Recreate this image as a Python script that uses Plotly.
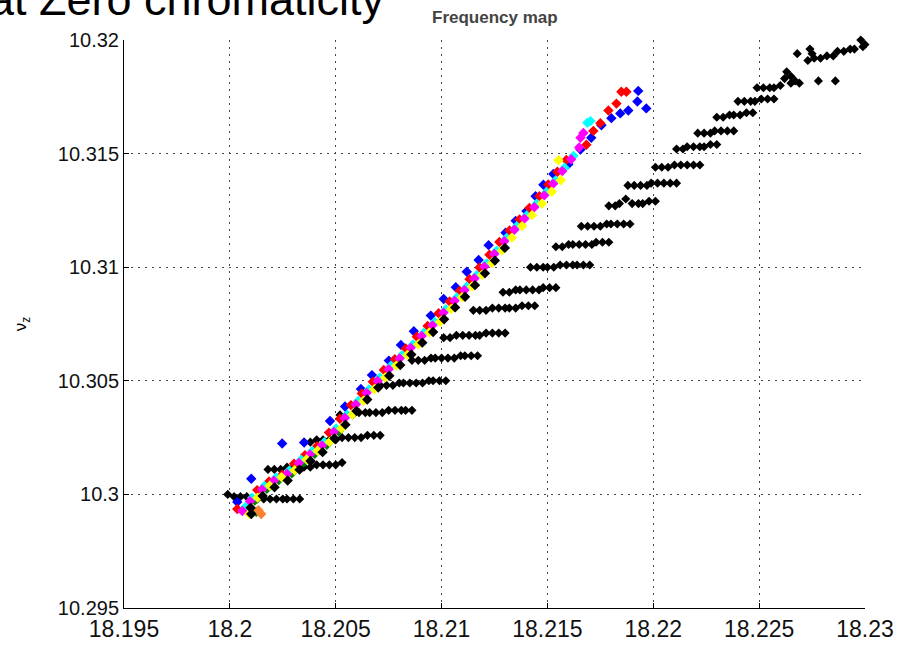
import plotly.graph_objects as go

# ---------------- data ----------------
x_ticks = [18.195, 18.2, 18.205, 18.21, 18.215, 18.22, 18.225, 18.23]
x_tick_labels = ["18.195", "18.2", "18.205", "18.21", "18.215", "18.22", "18.225", "18.23"]
y_ticks = [10.295, 10.3, 10.305, 10.31, 10.315, 10.32]
y_tick_labels = ["10.295", "10.3", "10.305", "10.31", "10.315", "10.32"]

# black staircase (one list per row)
black_rows_x = [
    [18.1999, 18.2002, 18.2005, 18.2008, 18.2010, 18.2013, 18.2016, 18.2019, 18.2022, 18.2025, 18.2027, 18.2030, 18.2033],
    [18.2018, 18.2021, 18.2024, 18.2027, 18.2030, 18.2032, 18.2035, 18.2038, 18.2041, 18.2044, 18.2047, 18.2050, 18.2053],
    [18.2035, 18.2038, 18.2041, 18.2044, 18.2047, 18.2050, 18.2053, 18.2056, 18.2059, 18.2062, 18.2065, 18.2068, 18.2071],
    [18.2052, 18.2055, 18.2058, 18.2061, 18.2064, 18.2066, 18.2069, 18.2072, 18.2075, 18.2078, 18.2081, 18.2083, 18.2086],
    [18.2071, 18.2074, 18.2077, 18.2080, 18.2082, 18.2085, 18.2088, 18.2091, 18.2094, 18.2096, 18.2099, 18.2102],
    [18.2086, 18.2089, 18.2092, 18.2095, 18.2097, 18.2100, 18.2103, 18.2106, 18.2109, 18.2111, 18.2114, 18.2117],
    [18.2101, 18.2104, 18.2107, 18.2110, 18.2113, 18.2116, 18.2118, 18.2121, 18.2124, 18.2127, 18.2130],
    [18.2115, 18.2118, 18.2121, 18.2124, 18.2127, 18.2130, 18.2132, 18.2135, 18.2138, 18.2141, 18.2144],
    [18.2129, 18.2132, 18.2135, 18.2137, 18.2140, 18.2143, 18.2146, 18.2148, 18.2151, 18.2154],
    [18.2142, 18.2145, 18.2148, 18.2150, 18.2153, 18.2156, 18.2159, 18.2162, 18.2164, 18.2167, 18.2170],
    [18.2154, 18.2157, 18.2160, 18.2162, 18.2165, 18.2168, 18.2171, 18.2173, 18.2176, 18.2179],
    [18.2166, 18.2169, 18.2172, 18.2175, 18.2178, 18.2180, 18.2183, 18.2186, 18.2189],
    [18.2179, 18.2182, 18.2184, 18.2187, 18.2190, 18.2193, 18.2195, 18.2198, 18.2201],
    [18.2188, 18.2191, 18.2194, 18.2197, 18.2199, 18.2202, 18.2205, 18.2208, 18.2211],
    [18.2201, 18.2204, 18.2207, 18.2210, 18.2213, 18.2216, 18.2219, 18.2222],
    [18.2211, 18.2214, 18.2216, 18.2219, 18.2222, 18.2224, 18.2227, 18.2230],
    [18.2221, 18.2224, 18.2227, 18.2229, 18.2232, 18.2235, 18.2238],
    [18.2230, 18.2233, 18.2236, 18.2238, 18.2241, 18.2244, 18.2247],
    [18.2240, 18.2243, 18.2246, 18.2248, 18.2251, 18.2254, 18.2257],
    [18.2249, 18.2252, 18.2255, 18.2257, 18.2260],
    [18.2273, 18.2276, 18.2279, 18.2282, 18.2285],
    [18.2287, 18.2290, 18.2293, 18.2295],
]
black_rows_y = [
    [10.3000, 10.2999, 10.2999, 10.2999, 10.2998, 10.2998, 10.2998, 10.2998, 10.2998, 10.2998, 10.2998, 10.2998, 10.2998],
    [10.3011, 10.3011, 10.3011, 10.3012, 10.3012, 10.3012, 10.3012, 10.3012, 10.3013, 10.3013, 10.3013, 10.3013, 10.3014],
    [10.3023, 10.3023, 10.3024, 10.3024, 10.3024, 10.3024, 10.3025, 10.3025, 10.3025, 10.3025, 10.3026, 10.3026, 10.3026],
    [10.3035, 10.3035, 10.3035, 10.3036, 10.3036, 10.3036, 10.3036, 10.3036, 10.3037, 10.3037, 10.3037, 10.3037, 10.3037],
    [10.3048, 10.3048, 10.3048, 10.3049, 10.3049, 10.3049, 10.3049, 10.3049, 10.3050, 10.3050, 10.3050, 10.3050],
    [10.3059, 10.3059, 10.3059, 10.3060, 10.3060, 10.3060, 10.3060, 10.3060, 10.3061, 10.3061, 10.3061, 10.3061],
    [10.3069, 10.3069, 10.3070, 10.3070, 10.3070, 10.3070, 10.3070, 10.3071, 10.3071, 10.3071, 10.3071],
    [10.3081, 10.3081, 10.3081, 10.3082, 10.3082, 10.3082, 10.3082, 10.3082, 10.3083, 10.3083, 10.3083],
    [10.3089, 10.3089, 10.3090, 10.3090, 10.3090, 10.3090, 10.3090, 10.3091, 10.3091, 10.3091],
    [10.3100, 10.3100, 10.3100, 10.3100, 10.3100, 10.3101, 10.3101, 10.3101, 10.3101, 10.3101, 10.3101],
    [10.3109, 10.3109, 10.3110, 10.3110, 10.3110, 10.3110, 10.3110, 10.3111, 10.3111, 10.3111],
    [10.3118, 10.3118, 10.3118, 10.3118, 10.3119, 10.3119, 10.3119, 10.3119, 10.3119],
    [10.3127, 10.3127, 10.3128, 10.3130, 10.3128, 10.3128, 10.3128, 10.3129, 10.3129],
    [10.3136, 10.3136, 10.3136, 10.3136, 10.3137, 10.3137, 10.3137, 10.3137, 10.3137],
    [10.3144, 10.3144, 10.3144, 10.3145, 10.3145, 10.3145, 10.3145, 10.3145],
    [10.3152, 10.3152, 10.3153, 10.3153, 10.3153, 10.3153, 10.3154, 10.3154],
    [10.3159, 10.3159, 10.3159, 10.3160, 10.3160, 10.3160, 10.3160],
    [10.3166, 10.3166, 10.3167, 10.3167, 10.3167, 10.3168, 10.3168],
    [10.3173, 10.3173, 10.3173, 10.3173, 10.3174, 10.3174, 10.3174],
    [10.3179, 10.3179, 10.3179, 10.3179, 10.3180],
    [10.3191, 10.3192, 10.3192, 10.3193, 10.3193],
    [10.3195, 10.3195, 10.3196, 10.3196],
]
black_extra_x = [18.2263, 18.2265, 18.2267, 18.2269, 18.2265, 18.2262, 18.2274, 18.2275, 18.2268,
                 18.2278, 18.2286, 18.2297, 18.2298, 18.2300, 18.2299]
black_extra_y = [10.3186, 10.3184, 10.3182, 10.3181, 10.3181, 10.3183, 10.3196, 10.3194, 10.3194,
                 10.3182, 10.3182, 10.3201, 10.3200, 10.3198, 10.3197]

blue_x = [18.20035, 18.20101, 18.20247, 18.20351, 18.20473, 18.20544, 18.20619, 18.20671, 18.20751,
          18.20808, 18.20869, 18.20949, 18.21010, 18.21067, 18.21119, 18.21175, 18.21222, 18.21302,
          18.21350, 18.21401, 18.21444, 18.21481, 18.21528, 18.21599, 18.21656, 18.21707, 18.21755,
          18.21802, 18.21844, 18.21882, 18.21925, 18.21967, 18.21929]
blue_y = [10.29966, 10.30069, 10.30224, 10.30228, 10.30323, 10.30387, 10.30464, 10.30525, 10.30589,
          10.30658, 10.30718, 10.30787, 10.30860, 10.30912, 10.30980, 10.31032, 10.31097, 10.31152,
          10.31204, 10.31247, 10.31312, 10.31363, 10.31410, 10.31453, 10.31518, 10.31570, 10.31625,
          10.31656, 10.31677, 10.31690, 10.31729, 10.31699, 10.31776]

red_x = [18.20035, 18.20129, 18.20185, 18.20247, 18.20303, 18.20355, 18.20412, 18.20468, 18.20520,
         18.20572, 18.20623, 18.20675, 18.20727, 18.20779, 18.20831, 18.20883, 18.20934, 18.20986,
         18.21038, 18.21085, 18.21132, 18.21179, 18.21226, 18.21273, 18.21321, 18.21368, 18.21415,
         18.21462, 18.21504, 18.21547, 18.21589, 18.21684, 18.21717, 18.21750, 18.21788, 18.21826,
         18.21849, 18.21873]
red_y = [10.29936, 10.30019, 10.30057, 10.30087, 10.30135, 10.30173, 10.30212, 10.30272, 10.30333,
         10.30393, 10.30444, 10.30496, 10.30548, 10.30595, 10.30642, 10.30694, 10.30741, 10.30797,
         10.30849, 10.30896, 10.30947, 10.30999, 10.31055, 10.31111, 10.31162, 10.31210, 10.31261,
         10.31313, 10.31364, 10.31420, 10.31472, 10.31539, 10.31600, 10.31634, 10.31690, 10.31720,
         10.31772, 10.31772]

green_x = [18.20125, 18.20118, 18.20175, 18.20231, 18.20293, 18.20349, 18.20401, 18.20458, 18.20514]
green_y = [10.29923, 10.29973, 10.30025, 10.30063, 10.30093, 10.30141, 10.30179, 10.30218, 10.30278]

orange_x = [18.20148, 18.20135]
orange_y = [10.29914, 10.29930]

cyan_x = [18.20073, 18.20106, 18.20163, 18.20219, 18.20281, 18.20337, 18.20389, 18.20446, 18.20502,
          18.20554, 18.20606, 18.20657, 18.20709, 18.20761, 18.20813, 18.20865, 18.20917, 18.20968,
          18.21020, 18.21072, 18.21119, 18.21166, 18.21213, 18.21260, 18.21307, 18.21355, 18.21402,
          18.21449, 18.21496, 18.21538, 18.21581, 18.21623, 18.21689, 18.21703]
cyan_y = [10.29944, 10.29985, 10.30037, 10.30075, 10.30105, 10.30153, 10.30191, 10.30230, 10.30290,
          10.30351, 10.30411, 10.30462, 10.30514, 10.30566, 10.30613, 10.30660, 10.30712, 10.30759,
          10.30815, 10.30867, 10.30914, 10.30965, 10.31017, 10.31073, 10.31129, 10.31180, 10.31228,
          10.31279, 10.31331, 10.31382, 10.31438, 10.31490, 10.31636, 10.31643]

magenta_x = [18.20059, 18.20095, 18.20152, 18.20208, 18.20270, 18.20326, 18.20378, 18.20435, 18.20491,
             18.20543, 18.20595, 18.20646, 18.20698, 18.20750, 18.20802, 18.20854, 18.20906, 18.20957,
             18.21009, 18.21061, 18.21108, 18.21155, 18.21202, 18.21249, 18.21296, 18.21344, 18.21391,
             18.21438, 18.21485, 18.21527, 18.21570, 18.21612, 18.21650, 18.21656, 18.21670]
magenta_y = [10.29927, 10.29970, 10.30022, 10.30060, 10.30090, 10.30138, 10.30176, 10.30215, 10.30275,
             10.30336, 10.30396, 10.30447, 10.30499, 10.30551, 10.30598, 10.30645, 10.30697, 10.30744,
             10.30800, 10.30852, 10.30899, 10.30950, 10.31002, 10.31058, 10.31114, 10.31165, 10.31213,
             10.31264, 10.31316, 10.31367, 10.31423, 10.31475, 10.31527, 10.31570, 10.31591]

yellow_x = [18.20092, 18.20131, 18.20188, 18.20244, 18.20306, 18.20362, 18.20414, 18.20471, 18.20527,
            18.20579, 18.20631, 18.20682, 18.20734, 18.20786, 18.20838, 18.20890, 18.20942, 18.20993,
            18.21045, 18.21097, 18.21144, 18.21191, 18.21238, 18.21285, 18.21332, 18.21380, 18.21427,
            18.21474, 18.21521, 18.21563, 18.21552]
yellow_y = [10.29914, 10.29986, 10.30038, 10.30076, 10.30106, 10.30154, 10.30192, 10.30231, 10.30291,
            10.30352, 10.30412, 10.30463, 10.30515, 10.30567, 10.30614, 10.30661, 10.30713, 10.30760,
            10.30816, 10.30868, 10.30915, 10.30966, 10.31018, 10.31074, 10.31130, 10.31181, 10.31229,
            10.31280, 10.31332, 10.31383, 10.31471]

kdiag_x = [18.20101, 18.20098, 18.20155, 18.20211, 18.20273, 18.20329, 18.20381, 18.20438, 18.20494,
           18.20546, 18.20598, 18.20649, 18.20701, 18.20753, 18.20805, 18.20857, 18.20909, 18.20960,
           18.21012, 18.21064, 18.21111, 18.21158, 18.21205, 18.21252, 18.21299]
kdiag_y = [10.29914, 10.29941, 10.29993, 10.30031, 10.30061, 10.30109, 10.30147, 10.30186, 10.30246,
           10.30307, 10.30367, 10.30418, 10.30470, 10.30522, 10.30569, 10.30616, 10.30668, 10.30715,
           10.30771, 10.30823, 10.30870, 10.30921, 10.30973, 10.31029, 10.31085]

# ---------------- figure ----------------
fig = go.Figure()

bx = [v for row in black_rows_x for v in row] + black_extra_x
by = [v for row in black_rows_y for v in row] + black_extra_y
fig.add_trace(go.Scatter(x=bx, y=by, mode="markers",
                         marker=dict(symbol="diamond", size=7, color="black", line=dict(width=0)),
                         cliponaxis=False))

series = [
    (blue_x, blue_y, "#0000ff"),
    (red_x, red_y, "#ff0000"),
    (green_x, green_y, "#008000"),
    (orange_x, orange_y, "#ff8030"),
    (cyan_x, cyan_y, "#00ffff"),
    (magenta_x, magenta_y, "#ff00ff"),
    (yellow_x, yellow_y, "#ffff00"),
    (kdiag_x, kdiag_y, "#000000"),
]
for sx, sy, col in series:
    fig.add_trace(go.Scatter(x=sx, y=sy, mode="markers",
                             marker=dict(symbol="diamond", size=8, color=col, line=dict(width=0)),
                             cliponaxis=False))

axis_common = dict(
    showgrid=True, gridcolor="#444444", griddash="2px,5px", gridwidth=1,
    zeroline=False, showline=True, linecolor="black", linewidth=1,
    ticks="inside", ticklen=5, tickcolor="black", mirror=False,
)

fig.update_layout(
    width=906, height=654,
    margin=dict(l=124, r=39, t=40, b=33),
    paper_bgcolor="white", plot_bgcolor="white",
    showlegend=False,
    font=dict(family="Liberation Sans, Arial, sans-serif", color="black"),
    xaxis=dict(range=[18.195, 18.23], tickvals=x_ticks, ticktext=x_tick_labels,
               tickfont=dict(family="Liberation Sans Narrow, Liberation Sans, sans-serif", size=23, color="#111"),
               **axis_common),
    yaxis=dict(range=[10.295, 10.32], tickvals=y_ticks, ticktext=y_tick_labels,
               tickfont=dict(family="Liberation Sans, sans-serif", size=20, color="#111"),
               title=dict(text="ν<sub>z</sub>", standoff=26,
                          font=dict(family="Liberation Sans, sans-serif", size=17, color="black")),
               automargin=False,
               **axis_common),
    annotations=[
        dict(text="<b>Frequency map</b>", xref="paper", yref="paper", x=0.5, y=1.0,
             xanchor="center", yanchor="bottom", yshift=11, showarrow=False,
             font=dict(family="Liberation Sans, sans-serif", size=17, color="#444")),
        dict(text="at Zero chromaticity", xref="paper", yref="paper", x=0.355, y=1.0225,
             xanchor="right", yanchor="bottom", showarrow=False,
             font=dict(family="Liberation Sans, Arial, sans-serif", size=45, color="black")),
    ],
)

fig.write_html("out.html")
